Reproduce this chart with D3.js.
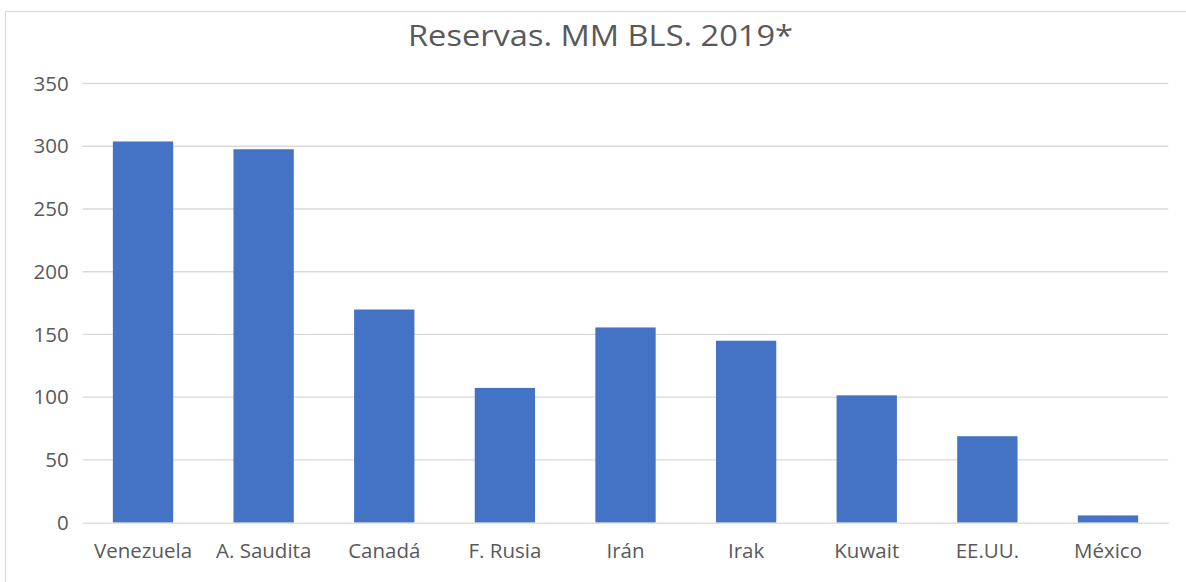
<!DOCTYPE html>
<html><head><meta charset="utf-8">
<script src="https://cdn.jsdelivr.net/npm/d3@7"></script>
<style>
html,body{margin:0;padding:0;background:#fff;}
svg{display:block;}
text{font-family:"Open Sans","Noto Sans",sans-serif;}
</style></head>
<body>
<svg id="chart" width="1186" height="582"></svg>
<script>
const categories = ["Venezuela","A. Saudita","Canadá","F. Rusia","Irán","Irak","Kuwait","EE.UU.","México"];
const values = [303.8, 297.6, 169.9, 107.4, 155.6, 145.0, 101.5, 68.9, 5.8];
const yTicks = [0, 50, 100, 150, 200, 250, 300, 350];
const title = "Reservas. MM BLS. 2019*";

const svg = d3.select("#chart");
const W = 1186, H = 582;
const m = {left: 82.7, right: 1186 - 1168.3, top: 83.5, bottom: H - 522.7};

// chart frame
svg.append("rect").attr("x", 5.5).attr("y", 11.5).attr("width", 1186).attr("height", 600)
  .attr("fill", "#fff").attr("stroke", "#d9d9d9").attr("stroke-width", 1);

const x = d3.scaleBand().domain(categories).range([m.left, W - m.right]).paddingInner(0.5).paddingOuter(0.25);
const y = d3.scaleLinear().domain([0, 350]).range([H - m.bottom, m.top]);

// gridlines
svg.append("g").selectAll("line").data(yTicks.filter(d => d > 0)).join("line")
  .attr("x1", m.left).attr("x2", W - m.right)
  .attr("y1", d => y(d)).attr("y2", d => y(d))
  .attr("stroke", "#d9d9d9").attr("stroke-width", 1.3);

// y axis
const yAxis = svg.append("g").attr("transform", `translate(${m.left},0)`)
  .call(d3.axisLeft(y).tickValues(yTicks).tickSize(0).tickPadding(14));
yAxis.select(".domain").remove();
yAxis.selectAll("text").attr("fill", "#595959").style("font-size", "20.5px");

// bars
svg.append("g").selectAll("rect").data(values).join("rect")
  .attr("x", (d, i) => x(categories[i]))
  .attr("width", x.bandwidth())
  .attr("y", d => y(d))
  .attr("height", d => y(0) - y(d))
  .attr("fill", "#4472c4");

// x axis
const xAxis = svg.append("g").attr("transform", `translate(0,${y(0)})`)
  .call(d3.axisBottom(x).tickSize(0).tickPadding(21));
xAxis.select(".domain").attr("stroke", "#d9d9d9").attr("stroke-width", 1.3);
xAxis.selectAll("text").attr("fill", "#595959").style("font-size", "20.5px");

// title
svg.append("text").attr("x", (408 + 793) / 2).attr("y", 46)
  .attr("text-anchor", "middle").attr("fill", "#595959")
  .attr("textLength", 385).attr("lengthAdjust", "spacingAndGlyphs")
  .style("font-size", "30px").text(title);
</script>
</body></html>
